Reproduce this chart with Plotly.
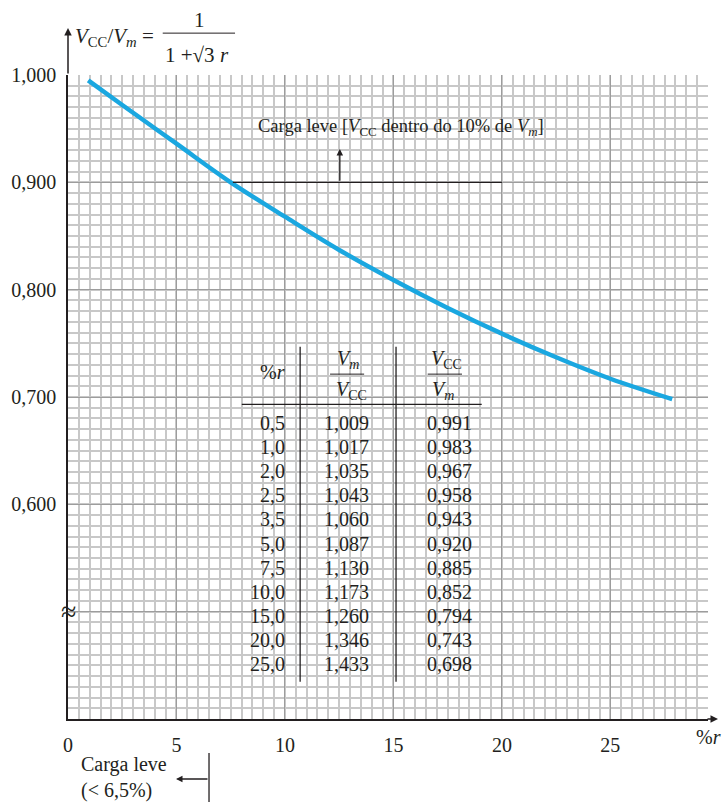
import plotly.graph_objects as go

# ---- data ----
curve_r = [0.93, 2.5, 5.0, 7.5, 10.0, 12.5, 15.0, 17.5, 20.0, 22.5, 25.0, 27.85]
curve_ratio = [0.995, 0.972, 0.936, 0.900, 0.868, 0.837, 0.809, 0.783, 0.759, 0.737, 0.717, 0.698]

x_ticks = [0, 5, 10, 15, 20, 25]
y_tickvals = [0.5, 0.6, 0.7, 0.8, 0.9, 1.0]
y_ticktext = ["", "0,600", "0,700", "0,800", "0,900", "1,000"]

table_r = ["0,5", "1,0", "2,0", "2,5", "3,5", "5,0", "7,5", "10,0", "15,0", "20,0", "25,0"]
table_vm_vcc = ["1,009", "1,017", "1,035", "1,043", "1,060", "1,087", "1,130", "1,173", "1,260", "1,346", "1,433"]
table_vcc_vm = ["0,991", "0,983", "0,967", "0,958", "0,943", "0,920", "0,885", "0,852", "0,794", "0,743", "0,698"]

FONT = "Liberation Serif"
INK = "#231f20"
BLUE = "#1aa7e0"

fig = go.Figure()
fig.add_trace(go.Scatter(
    x=curve_r, y=curve_ratio, mode="lines",
    line=dict(color=BLUE, width=4.5, shape="spline", smoothing=1.0),
    showlegend=False, hoverinfo="skip"))

annotations = []
shapes = []

def txt(x, y, text, size=20, xanchor="center", yanchor="middle", xref="x", yref="y", align="center"):
    annotations.append(dict(x=x, y=y, xref=xref, yref=yref, text=text, showarrow=False,
                            xanchor=xanchor, yanchor=yanchor, align=align,
                            font=dict(family=FONT, size=size, color=INK)))

def seg(x0, y0, x1, y1, xref="x", yref="y", width=1.3):
    shapes.append(dict(type="line", x0=x0, y0=y0, x1=x1, y1=y1, xref=xref, yref=yref,
                       line=dict(color=INK, width=width), layer="above"))

# ---- table ----
row_y0, row_step = 0.6755, 0.0224
for i in range(len(table_r)):
    y = row_y0 - i * row_step
    txt(10.08, y, table_r[i], xanchor="right")
    txt(12.85, y, table_vm_vcc[i])
    txt(17.57, y, table_vcc_vm[i])

txt(10.08, 0.7235, "%<i>r</i>", xanchor="right")
txt(12.9, 0.7350, "<i>V<sub>m</sub></i>")
seg(12.08, 0.7213, 13.65, 0.7213, width=1)
txt(13.05, 0.7064, "<i>V</i><sub>CC</sub>")
txt(17.43, 0.7350, "<i>V</i><sub>CC</sub>")
seg(16.58, 0.7213, 18.16, 0.7213, width=1)
txt(17.30, 0.7064, "<i>V<sub>m</sub></i>")

seg(8.01, 0.6931, 19.07, 0.6931)
seg(10.70, 0.7468, 10.70, 0.4346)
seg(15.12, 0.7468, 15.12, 0.4346)

# ---- light-load line ----
seg(7.6, 0.900, 20.0, 0.900)
annotations.append(dict(x=12.53, y=0.931, ax=12.53, ay=0.900, xref="x", yref="y", axref="x", ayref="y",
                        text="", showarrow=True, arrowhead=2, arrowsize=1, arrowwidth=1.3, arrowcolor=INK))
txt(15.35, 0.9515, "Carga leve [<i>V</i><sub>CC</sub> dentro do 10% de <i>V<sub>m</sub></i>]", size=18.5)

# ---- axis break ----
txt(0, 0.5, "≈", size=28, xref="x")

# ---- axis arrows ----
annotations.append(dict(x=0, y=1.073, xref="paper", yref="paper", ax=0, ay=47,
                        text="", showarrow=True, arrowhead=2, arrowsize=1, arrowwidth=1.5, arrowcolor=INK))
annotations.append(dict(x=1.0156, y=0, xref="paper", yref="paper", ax=-12, ay=0,
                        text="", showarrow=True, arrowhead=2, arrowsize=1, arrowwidth=1.5, arrowcolor=INK))
txt(1.0, -0.028, "%<i>r</i>", size=20, xref="paper", yref="paper")

# ---- y title as a formula ----
txt(0.008, 1.059, "<i>V</i><sub>CC</sub>/<i>V<sub>m</sub></i> =", size=21, xanchor="left", xref="paper", yref="paper")
txt(0.205, 1.086, "1", size=21, xref="paper", yref="paper")
seg(0.148, 1.065, 0.261, 1.065, xref="paper", yref="paper", width=1)
txt(0.2016, 1.031, "1 +√3 <i>r</i>", size=21, xref="paper", yref="paper")

# ---- bottom note ----
txt(0.0172, -0.0916, "Carga leve<br>(< 6,5%)", size=20, xanchor="left", xref="paper", yref="paper", align="left")
seg(6.5 / 29.5, -0.0528, 6.5 / 29.5, -0.135, xref="paper", yref="paper")
annotations.append(dict(x=(176 - 68) / 640, y=-0.0932, xref="paper", yref="paper", ax=33, ay=0,
                        text="", showarrow=True, arrowhead=2, arrowsize=1, arrowwidth=1.3, arrowcolor=INK))

fig.update_layout(
    width=723, height=802,
    margin=dict(l=68, r=15, t=75, b=83),
    paper_bgcolor="white", plot_bgcolor="white",
    font=dict(family=FONT, size=20, color=INK),
    annotations=annotations, shapes=shapes,
    showlegend=False,
)
fig.update_xaxes(
    range=[0, 29.5], tickmode="array", tickvals=x_ticks, ticktext=[str(v) for v in x_ticks],
    showgrid=True, gridcolor="#9d9d9d", gridwidth=1,
    minor=dict(dtick=0.5, tick0=0, showgrid=True, gridcolor="#c8c8c8", gridwidth=1.7),
    showline=True, linecolor=INK, linewidth=1.5, zeroline=False,
    ticks="", ticklabelstandoff=7, tickfont=dict(family=FONT, size=20, color=INK),
)
fig.update_yaxes(
    range=[0.4, 1.0], tickmode="array", tickvals=y_tickvals, ticktext=y_ticktext,
    showgrid=True, gridcolor="#9d9d9d", gridwidth=1,
    minor=dict(dtick=0.01, tick0=0.4, showgrid=True, gridcolor="#c8c8c8", gridwidth=1.7),
    showline=True, linecolor=INK, linewidth=1.5, zeroline=False,
    ticks="", ticklabelstandoff=6, tickfont=dict(family=FONT, size=20, color=INK),
)

fig.write_html("out.html", config={"displayModeBar": False},
               post_script="document.body.style.margin='0';")
